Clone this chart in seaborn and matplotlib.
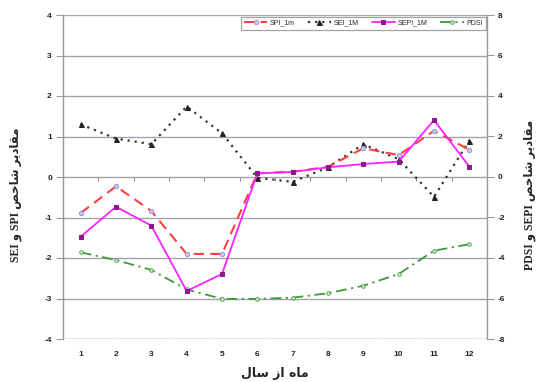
import matplotlib
matplotlib.use("Agg")
import matplotlib.pyplot as plt
import seaborn as sns
import pandas as pd
from matplotlib.ticker import FixedLocator, NullFormatter

# ---- data -------------------------------------------------------------
months = [1, 2, 3, 4, 5, 6, 7, 8, 9, 10, 11, 12]
spi_1m = [-0.89, -0.23, -0.84, -1.90, -1.90, 0.09, 0.13, 0.25, 0.71, 0.54, 1.14, 0.67]
sei_1m = [1.30, 0.95, 0.81, 1.74, 1.08, -0.02, -0.12, 0.24, 0.81, 0.44, -0.49, 0.90]
sepi_1m = [-2.95, -1.47, -2.40, -5.63, -4.79, 0.18, 0.25, 0.48, 0.64, 0.76, 2.81, 0.51]
pdsi = [-3.72, -4.10, -4.59, -5.55, -6.02, -6.02, -5.96, -5.74, -5.37, -4.79, -3.64, -3.32]

left_ticks = [-4, -3, -2, -1, 0, 1, 2, 3, 4]
right_ticks = [-8, -6, -4, -2, 0, 2, 4, 6, 8]

xlabel_text = "ماه از سال"
ylabel_left_text = "مقادیر شاخص SPI و SEI"
ylabel_right_text = "مقادیر شاخص SEPI و PDSI"

# ---- minimal Persian shaping (matplotlib has no complex text layout) ---
FORMS = {  # isolated, final, initial, medial
    "\u0627": ("\uFE8D", "\uFE8E", None, None),
    "\u062F": ("\uFEA9", "\uFEAA", None, None),
    "\u0631": ("\uFEAD", "\uFEAE", None, None),
    "\u0632": ("\uFEAF", "\uFEB0", None, None),
    "\u0648": ("\uFEED", "\uFEEE", None, None),
    "\u0645": ("\uFEE1", "\uFEE2", "\uFEE3", "\uFEE4"),
    "\u0642": ("\uFED5", "\uFED6", "\uFED7", "\uFED8"),
    "\u0634": ("\uFEB5", "\uFEB6", "\uFEB7", "\uFEB8"),
    "\u062E": ("\uFEA5", "\uFEA6", "\uFEA7", "\uFEA8"),
    "\u0635": ("\uFEB9", "\uFEBA", "\uFEBB", "\uFEBC"),
    "\u0647": ("\uFEE9", "\uFEEA", "\uFEEB", "\uFEEC"),
    "\u0633": ("\uFEB1", "\uFEB2", "\uFEB3", "\uFEB4"),
    "\u0644": ("\uFEDD", "\uFEDE", "\uFEDF", "\uFEE0"),
    "\u06CC": ("\uFBFC", "\uFBFD", "\uFBFE", "\uFBFF"),
}


def shape_word(word):
    out = []
    n = len(word)
    for i, ch in enumerate(word):
        if ch not in FORMS:
            out.append(ch)
            continue
        iso, fin, ini, med = FORMS[ch]
        prev = word[i - 1] if i > 0 else None
        nxt = word[i + 1] if i < n - 1 else None
        join_prev = prev in FORMS and FORMS[prev][2] is not None
        join_next = ini is not None and nxt in FORMS
        if join_prev and join_next:
            out.append(med)
        elif join_prev:
            out.append(fin)
        elif join_next:
            out.append(ini)
        else:
            out.append(iso)
    return "".join(reversed(out))


def rtl(text):
    words = text.split(" ")
    vis = [shape_word(w) if any(c in FORMS for c in w) else w for w in words]
    return " ".join(reversed(vis))


# ---- figure -----------------------------------------------------------
sns.set_theme(style="white")
plt.rcParams["font.family"] = ["Liberation Sans", "DejaVu Sans"]

fig = plt.figure(figsize=(5.48, 3.82), dpi=100)
ax = fig.add_axes([63 / 548, 1 - 339 / 382, (487 - 63) / 548, (339 - 15) / 382])
ax2 = ax.twinx()

df = pd.DataFrame({"month": months, "SPI_1m": spi_1m, "SEI_1M": sei_1m,
                   "SEPI_1M": sepi_1m, "PDSI": pdsi})

grid_col = "#a79fae"
axis_col = "#9a9a9a"

sns.lineplot(data=df, x="month", y="SPI_1m", ax=ax, color="#ff4040",
             linestyle=(0, (5, 3)), linewidth=1.5, marker="o", markersize=3.2,
             markerfacecolor="#c8c8f0", markeredgecolor="#9090d0",
             markeredgewidth=0.6, zorder=4)
sns.lineplot(data=df, x="month", y="SEI_1M", ax=ax, color="#2d3a2d",
             linestyle=(0, (1, 2.2)), linewidth=1.6, marker="^", markersize=3.6,
             markerfacecolor="#222222", markeredgecolor="#222222", zorder=3)
sns.lineplot(data=df, x="month", y="SEPI_1M", ax=ax2, color="#ff22ff",
             linestyle="-", linewidth=1.3, marker="s", markersize=3.2,
             markerfacecolor="#8a1a8a", markeredgecolor="#8a1a8a", zorder=5)
sns.lineplot(data=df, x="month", y="PDSI", ax=ax2, color="#3d9a3d",
             linestyle=(0, (6, 2.5, 1.2, 2.5)), linewidth=1.3, marker="o",
             markersize=2.6, markerfacecolor="#d8ecd8", markeredgecolor="#3d9a3d",
             markeredgewidth=0.6, zorder=4)

# axes ranges and ticks
ax.set_xlim(0.5, 12.5)
ax.set_ylim(-4, 4)
ax2.set_ylim(-8, 8)
ax.set_xticks(months)
ax.set_yticks(left_ticks)
ax2.set_yticks(right_ticks)

tick_font = dict(fontsize=6, fontweight="bold", color="#222222")
ax.set_xticklabels([str(m) for m in months], **tick_font)
ax.set_yticklabels([str(t) for t in left_ticks], **tick_font)
ax2.set_yticklabels([str(t) for t in right_ticks], **tick_font)
ax.tick_params(axis="x", length=0, pad=9)
ax.tick_params(axis="y", length=5, width=0.8, color=axis_col, pad=3, left=True)
ax2.tick_params(axis="y", length=5, width=0.8, color=axis_col, pad=3, right=True)

# horizontal gridlines
ax.grid(axis="y", color=grid_col, linewidth=1.0)
ax.grid(axis="x", visible=False)
ax.set_axisbelow(True)

for a in (ax, ax2):
    a.spines["top"].set_visible(False)
    a.spines["bottom"].set_visible(False)
    a.spines["left"].set_color(axis_col)
    a.spines["right"].set_color(axis_col)
    a.spines["left"].set_linewidth(1.0)
    a.spines["right"].set_linewidth(1.0)
    a.set_xlabel("")
    a.set_ylabel("")
ax2.spines["left"].set_visible(False)
ax.spines["right"].set_visible(False)
ax.axhline(-4, color="#bdbdbd", linewidth=0.9, linestyle=(0, (3, 1.5)), zorder=1)

# category boundary ticks hanging below the zero line
sec = ax.secondary_xaxis(0.5)
for side in ("top", "bottom"):
    sec.spines[side].set_visible(False)
sec.xaxis.set_ticks_position("bottom")
sec.xaxis.set_major_locator(FixedLocator([m + 0.5 for m in months[:-1]]))
sec.xaxis.set_major_formatter(NullFormatter())
sec.tick_params(axis="x", which="both", direction="out", length=3, width=0.7,
                color="#8f8f8f", labelbottom=False, labeltop=False, top=False)

# axis titles
ax.set_xlabel(rtl(xlabel_text), fontsize=9, fontweight="bold",
              family=["DejaVu Sans"], labelpad=6)
fig.text(0.028, 0.49, rtl(ylabel_left_text), rotation=90, ha="center", va="center",
         fontsize=8.5, fontweight="bold", family=["Liberation Serif", "DejaVu Sans"])
fig.text(0.967, 0.49, rtl(ylabel_right_text), rotation=90, ha="center", va="center",
         fontsize=8.5, fontweight="bold", family=["Liberation Serif", "DejaVu Sans"])

# legend
handles = [ax.lines[0], ax.lines[1], ax2.lines[0], ax2.lines[1]]
labels = ["SPI_1m", "SEI_1M", "SEPI_1M", "PDSI"]
leg = ax2.legend(handles, labels, loc="upper right", bbox_to_anchor=(0.997, 0.995),
                 ncol=4, fontsize=5, frameon=True, fancybox=False, handlelength=3.4,
                 handletextpad=0.3, columnspacing=1.9, borderpad=0.45,
                 borderaxespad=0.0)
leg.get_frame().set_edgecolor("#8c8c8c")
leg.get_frame().set_linewidth(0.9)

fig.savefig("out.png", dpi=100)
